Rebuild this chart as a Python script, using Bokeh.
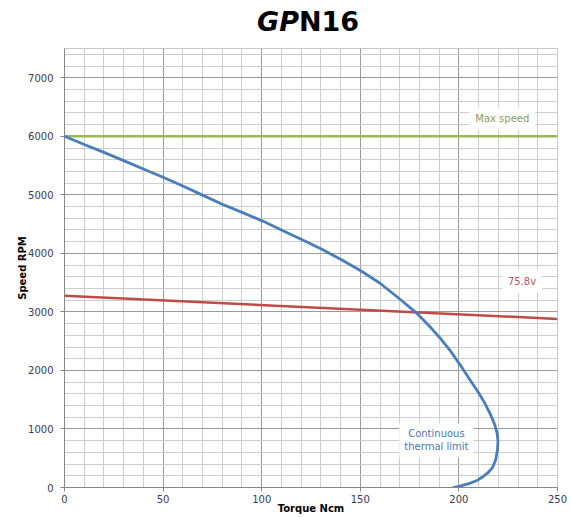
from bokeh.plotting import figure
from bokeh.models import Range1d, SingleIntervalTicker, Label, Div
from bokeh.layouts import column
from bokeh.embed import file_html
from bokeh.resources import INLINE

# ---- data ----
torque_curve = [0, 10, 20, 30, 40, 50, 60, 70, 80, 90, 100, 110, 120, 130, 140, 150, 160,
                170, 178, 185, 190.7, 196, 200.8, 206, 210, 213, 216, 218, 219.4, 219.8,
                219.6, 218.6, 217, 214.5, 212, 209.4, 205, 200, 197]
speed_curve = [6000, 5860, 5725, 5585, 5440, 5300, 5150, 4995, 4840, 4700, 4560, 4400, 4240,
               4078, 3900, 3708, 3490, 3220, 2997, 2760, 2543, 2320, 2087, 1820, 1620, 1450,
               1250, 1090, 927, 800, 650, 466, 340, 244, 180, 125, 65, 20, 0]
voltage_torque = [0, 250]
voltage_speed = [3275, 2880]
max_speed_torque = [0, 250]
max_speed_value = [6000, 6000]

x_ticks_interval = 50
y_ticks_interval = 1000

FONT = "DejaVu Sans"
TICK_COLOR = "#3a3a5a"

title = Div(text="<i>GP</i>N16", width=574, height=40, margin=(0, 0, 0, 0),
            styles={"font-family": "DejaVu Sans", "font-size": "27px", "font-weight": "bold",
                    "color": "black", "padding-left": "257px", "line-height": "44px"})

p = figure(width=574, height=476, output_backend="svg", toolbar_location=None,
           x_range=Range1d(0, 250), y_range=Range1d(0, 7500),
           min_border_left=64, min_border_right=17, min_border_top=8, min_border_bottom=28)
p.background_fill_color = "white"
p.border_fill_color = "white"
p.outline_line_color = "#c8c8c8"
p.outline_line_width = 1

p.xaxis.ticker = SingleIntervalTicker(interval=x_ticks_interval, num_minor_ticks=5)
p.yaxis.ticker = SingleIntervalTicker(interval=y_ticks_interval, num_minor_ticks=5)

p.xgrid.grid_line_color = "#9a9a9a"
p.ygrid.grid_line_color = "#9a9a9a"
p.xgrid.minor_grid_line_color = "#cdcdcd"
p.ygrid.minor_grid_line_color = "#cdcdcd"

for ax in (p.xaxis[0], p.yaxis[0]):
    ax.axis_line_color = "#868686"
    ax.major_tick_line_color = "#868686"
    ax.major_tick_out = 4
    ax.major_tick_in = 0
    ax.minor_tick_line_color = None
    ax.major_label_text_font = FONT
    ax.major_label_text_font_size = "10px"
    ax.major_label_text_color = TICK_COLOR
    ax.axis_label_text_font = FONT
    ax.axis_label_text_font_size = "10px"
    ax.axis_label_text_font_style = "bold"
    ax.axis_label_text_color = "black"

p.xaxis.axis_label = "Torque Ncm"
p.xaxis.major_label_standoff = 3
p.xaxis.axis_label_standoff = -3
p.yaxis.axis_label = "Speed RPM"
p.yaxis.major_label_standoff = 7
p.yaxis.axis_label_standoff = -3

p.line(max_speed_torque, max_speed_value, line_color="#98b954", line_width=2.5)
p.line(voltage_torque, voltage_speed, line_color="#be4b48", line_width=2.5)
p.line(torque_curve, speed_curve, line_color="#4a7ebb", line_width=2.8, line_join="round")

# in-plot labels
p.add_layout(Label(x=222, y=6300, text="Max speed", text_align="center", text_baseline="middle",
                   text_font=FONT, text_font_size="10px", text_color="#8a9a5b",
                   background_fill_color="white", padding=6))
p.add_layout(Label(x=232, y=3520, text="75.8v", text_align="center", text_baseline="middle",
                   text_font=FONT, text_font_size="10px", text_color="#b0585a",
                   background_fill_color="white", padding=6))
p.add_layout(Label(x=188.6, y=807, text="Continuous\nthermal limit", text_align="center",
                   text_baseline="middle", text_font=FONT, text_font_size="10px",
                   text_color="#4f77b8", background_fill_color="white", padding=5))

layout = column(title, p, spacing=0)
open("out.html", "w").write(file_html(layout, INLINE))
